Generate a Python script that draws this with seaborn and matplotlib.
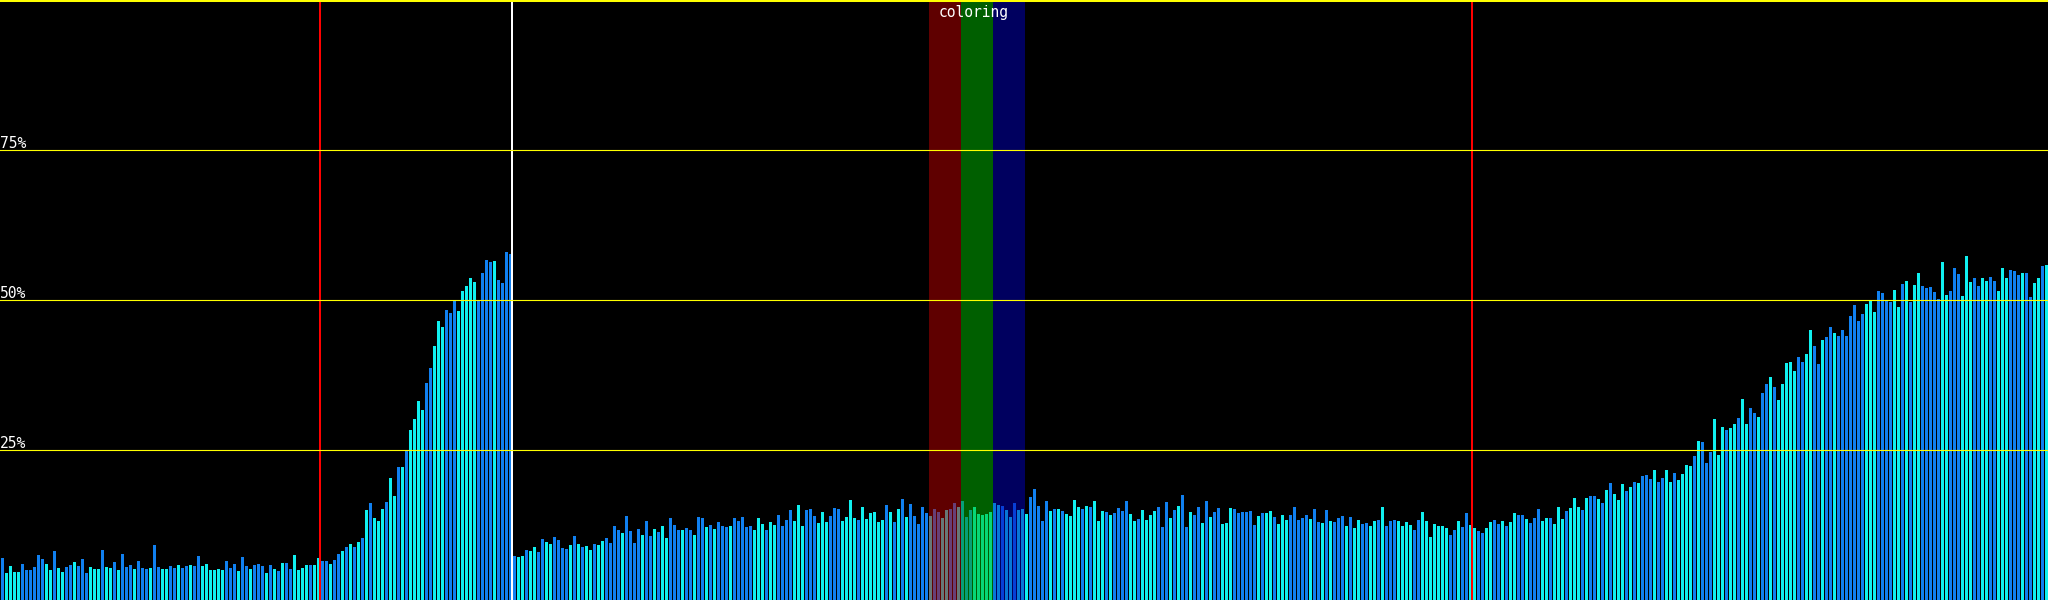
import matplotlib
matplotlib.use("Agg")
import matplotlib.pyplot as plt
import pandas as pd
import seaborn as sns

# bar heights in percent, left to right
baseline = [
    7.0, 4.5, 5.7, 4.7, 4.7, 6.0, 5.0, 5.0, 5.5, 7.5,
    6.8, 6.0, 5.0, 8.2, 5.3, 4.7, 5.5, 5.8, 6.3, 5.7,
    6.8, 4.5, 5.5, 5.2, 5.2, 8.3, 5.5, 5.3, 6.3, 5.0,
    7.7, 5.5, 5.8, 5.2, 6.5, 5.3, 5.2, 5.3, 9.2, 5.5,
    5.2, 5.2, 5.7, 5.3, 5.8, 5.3, 5.7, 5.8, 5.7, 7.3,
    5.7, 6.0, 5.0, 5.0, 5.2, 5.0, 6.5, 5.3, 6.0, 4.8,
    7.2, 5.7, 5.2, 5.8, 6.0, 5.7, 4.5, 5.8, 5.2, 4.8,
    6.2, 6.2, 5.2, 7.5, 5.0, 5.3, 5.8, 5.8, 5.8, 7.0,
]
first_ramp = [
    6.5, 6.5, 6.0, 6.7, 7.7, 8.2, 8.8, 9.3, 8.8, 9.7,
    10.3, 15.0, 16.2, 13.7, 13.2, 15.2, 16.3, 20.3, 17.3, 22.2,
    22.2, 25.0, 28.3, 30.2, 33.2, 31.7, 36.2, 38.7, 42.3, 46.5,
    45.5, 48.3, 47.8, 49.8, 48.2, 51.5, 52.3, 53.7, 53.0, 50.0,
    54.5, 56.7, 56.3, 56.5, 53.3, 52.8, 58.0, 57.7,
]
plateau = [
    7.3, 7.2,
    7.3, 8.3, 8.2, 8.8, 8.0, 10.2, 9.7, 9.3, 10.5, 10.0,
    8.7, 8.5, 9.2, 10.7, 9.3, 8.8, 9.0, 8.3, 9.3, 9.2,
    9.8, 10.3, 9.5, 12.3, 11.7, 11.2, 14.0, 11.5, 9.5, 11.8,
    10.8, 13.2, 10.7, 11.8, 11.3, 12.3, 10.3, 13.7, 12.5, 11.7,
    11.7, 12.0, 11.7, 10.8, 13.8, 13.7, 12.2, 12.5, 11.8, 13.0,
    12.3, 12.2, 12.3, 13.7, 13.2, 13.8, 12.2, 12.3, 11.7, 13.7,
    12.7, 11.7, 13.0, 12.5, 14.2, 12.3, 13.3, 15.0, 13.2, 15.8,
    12.3, 15.0, 15.2, 14.0, 12.8, 14.7, 13.0, 14.0, 15.3, 15.2,
    13.2, 13.8, 16.7, 13.7, 13.3, 15.5, 13.5, 14.5, 14.7, 13.0,
    13.3, 15.8, 14.7, 13.0, 15.2, 16.8, 13.8, 16.0, 14.0, 12.7,
    15.5, 14.5, 14.0, 15.2, 14.7, 13.7, 15.0, 15.2, 16.2, 15.5,
    16.5, 13.8, 15.0, 15.5, 14.3, 14.2, 14.3, 14.7, 16.2, 15.8,
    15.7, 15.0, 13.8, 16.2, 15.0, 15.2, 14.3, 17.2, 18.5, 15.7,
    13.2, 16.5, 14.8, 15.2, 15.2, 14.8, 14.3, 14.0, 16.7, 15.5,
    15.2, 15.7, 15.5, 16.5, 13.2, 14.8, 14.7, 14.2, 14.5, 15.3,
    14.8, 16.5, 14.3, 13.2, 13.5, 15.0, 13.3, 14.2, 14.8, 15.5,
    12.2, 16.3, 13.7, 15.0, 15.7, 17.5, 12.2, 14.7, 14.2, 15.5,
    12.8, 16.5, 13.8, 14.7, 15.3, 12.7, 12.8, 15.3, 15.2, 14.5,
    14.7, 14.7, 14.8, 12.5, 14.0, 14.5, 14.5, 14.8, 13.8, 12.7,
    14.2, 13.3, 14.2, 15.5, 13.3, 13.7, 14.2, 13.5, 15.2, 13.0,
    12.8, 15.0, 13.2, 13.0, 13.7, 14.0, 12.3, 13.8, 12.0, 13.3,
    12.7, 12.8, 12.3, 13.2, 13.3, 15.5, 12.3, 13.2, 13.3, 13.2,
    12.3, 13.0, 12.5, 11.7, 13.3, 14.7, 13.2, 10.5, 12.7, 12.3,
    12.3, 12.0, 10.8, 11.7, 13.2, 12.2, 14.5, 12.5,
]
second_ramp = [
    12.0, 11.5,
    11.2, 12.0, 13.0, 13.3, 12.7, 13.2, 12.3, 13.0, 14.5, 14.2,
    14.2, 13.5, 12.8, 13.7, 15.2, 13.2, 13.7, 13.7, 12.7, 15.5,
    13.5, 14.8, 15.3, 17.0, 15.5, 15.0, 17.0, 17.3, 17.3, 16.8,
    16.2, 18.3, 19.5, 17.7, 16.7, 19.3, 18.2, 18.8, 19.7, 19.5,
    20.7, 20.8, 20.2, 21.7, 19.7, 20.3, 21.7, 19.7, 21.2, 20.0,
    21.0, 22.5, 22.3, 24.0, 26.5, 26.3, 22.8, 24.7, 30.2, 24.2,
    28.8, 28.3, 28.7, 29.3, 30.3, 33.5, 29.3, 32.0, 31.2, 30.5,
    34.5, 36.0, 37.2, 35.5, 33.3, 36.0, 39.5, 39.7, 38.2, 40.5,
    39.7, 41.0, 45.0, 42.3, 39.3, 43.3, 43.8, 45.5, 44.5, 44.0,
    45.0, 44.0, 47.3, 49.2, 46.5, 47.7, 49.3, 49.8, 48.0, 51.5,
    51.2, 49.8, 49.7, 51.7, 48.8, 52.7, 53.2, 49.7, 52.5, 54.5,
    52.3, 52.0, 52.2, 51.3, 50.2, 56.3, 50.8, 51.5, 55.3, 54.3,
    50.7, 57.3, 53.0, 53.7, 52.3, 53.7, 53.2, 53.8, 53.2, 51.5,
    55.3, 53.7, 55.0, 54.8, 54.2, 54.5, 54.5, 50.5, 52.8, 53.7,
    55.7, 55.8,
]

# bar tone per bar: B = blue, C = cyan
tones_baseline = (
    "BCCCCBBBBB" "BCCBCCBBCB" "BBCCCBCCBC" "BBBCBBBCBB"
    "CCBBCBBCBB" "CCCCCCBBBC" "BBCBBBCBCB" "CBBCCCCBCC"
)
tones_first_ramp = "BBCBBCBCBC" "BCBCCCBCCB" "CBCCCCBBCC" "CBBBCCCCCB" "BBBCBBBB"
tones_plateau = (
    "BC" "CBCCBBCCBB" "BBCBCBCCBC" "CBBBBCBBBB" "CBBCBCCBBB" "CBBCBBCBCB"
    "BBCBBBBBCC" "CBCCBBBBCC" "CBBBCCCBBB" "CCCCBCCCCC" "CBCBCBCBBB"
    "BBCBBCCBBC" "BBBCCCCCCC" "BCCBCCCBBB" "BBCBCBCCCC" "BCBCCCBCBB"
    "BBCCBCCCCB" "BBCBCBBCBB" "CBCBBCCCBB" "BBBBCBCCBC" "CCBBBBBCBB"
    "CBCBBBCBCC" "BBCCBCBBBC" "CCCBBCCCCC" "CCBBCBBC"
)
tones_second_ramp = (
    "CB" "BCCBBCBCCB" "BCBBBCCBCC" "CBCCCBCBBC" "BCBCCCBCBC" "BBBCBBCCBC"
    "CCCBCBBBCC" "CBCCBCCBBC" "BBCBCCCCCB" "BCCBBCBBCB" "BBBBBBCCCB"
    "BBBCCBCBCC" "BBBBBCCBBB" "CCCBBCCBBC" "CCBBBCBBCC" "BC"
)

grid_levels = [25, 50, 75]
grid_labels = ["25%", "50%", "75%"]
red_markers = [80, 368]
white_marker = 128
color_bands = [("coloring", 232, 240, 248, 256)]

values = baseline + first_ramp + plateau + second_ramp
tones = list(tones_baseline + tones_first_ramp + tones_plateau + tones_second_ramp)
df = pd.DataFrame({"bar": range(len(values)), "pct": values, "tone": tones})

fig = plt.figure(figsize=(20.48, 6), dpi=100, facecolor="black")
ax = fig.add_axes([0, 0, 1, 1])
ax.set_facecolor("black")

sns.barplot(data=df, x="bar", y="pct", hue="tone",
            palette={"B": "#1080f0", "C": "#10f0f0"},
            native_scale=True, width=0.75, linewidth=0, saturation=1,
            errorbar=None, legend=False, ax=ax)

n = len(values)
ax.set_xlim(-0.625, n - 0.625)
ax.set_ylim(0, 100)

# overlay bands (semi transparent, over the bars)
for label, r0, g0, b0, b1 in color_bands:
    ax.axvspan(r0 - 0.5, g0 - 0.5, color=(0.75, 0, 0), alpha=0.5, lw=0, zorder=3)
    ax.axvspan(g0 - 0.5, b0 - 0.5, color=(0, 0.75, 0), alpha=0.5, lw=0, zorder=3)
    ax.axvspan(b0 - 0.5, b1 - 0.5, color=(0, 0, 0.75), alpha=0.5, lw=0, zorder=3)
    ax.text((r0 + b1) / 2 - 1.25, 99.2, label, color="white", ha="center", va="top",
            fontsize=10.5, family="DejaVu Sans Mono", zorder=6)

# marker lines sit in the gap before the given bar
for m in red_markers:
    ax.axvline(m - 0.625, color="red", lw=1.44, zorder=4)
ax.axvline(white_marker - 0.625, color="white", lw=1.44, zorder=4)

for lvl, lab in zip(grid_levels, grid_labels):
    ax.axhline(lvl - 0.08, color="yellow", lw=0.8, zorder=5)
    ax.text(-0.625, lvl + 0.3, lab, color="white", ha="left", va="baseline",
            fontsize=10.5, family="DejaVu Sans Mono", zorder=6)
ax.axhline(100, color="yellow", lw=2.9, zorder=5, clip_on=False)

ax.set_axis_off()
fig.savefig("out.png", dpi=100, facecolor="black")
